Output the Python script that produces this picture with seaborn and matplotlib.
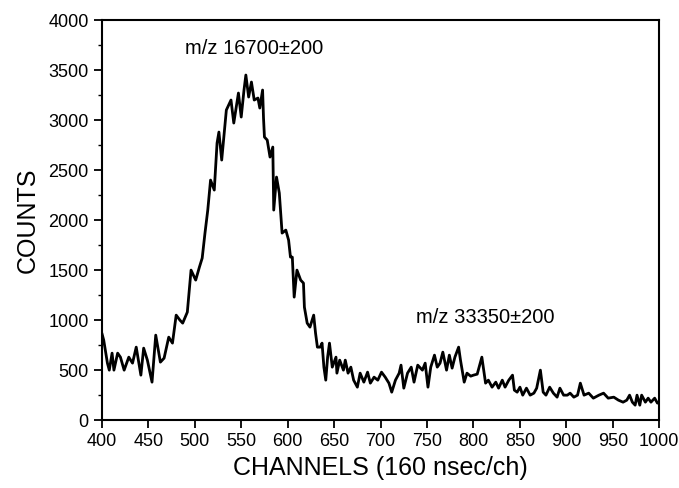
import matplotlib
matplotlib.use("Agg")
import matplotlib.pyplot as plt
import seaborn as sns
import pandas as pd
from matplotlib.ticker import MultipleLocator

channels = [400, 402, 406, 408, 411, 413, 417, 420, 424, 429, 433, 437, 442, 445, 449,
            454, 458, 463, 467, 472, 476, 480, 484, 487, 492, 496, 501, 505, 508, 511,
            514, 517, 521, 524, 526, 529, 531, 534, 539, 542, 547, 550, 553, 555, 558,
            561, 564, 568, 570, 573, 574, 575, 578, 581, 584, 585, 588, 591, 594, 598,
            601, 603, 605, 607, 610, 614, 617, 618, 621, 624, 628, 630, 632, 635, 637,
            639, 641, 643, 645, 648, 652, 653, 656, 660, 662, 665, 668, 671, 675, 678,
            682, 686, 689, 693, 697, 701, 705, 709, 712, 716, 720, 722, 725, 729, 733,
            736, 740, 745, 748, 751, 754, 758, 761, 764, 767, 771, 774, 777, 780, 784,
            786, 790, 793, 797, 800, 804, 809, 813, 816, 820, 824, 827, 831, 834, 838,
            842, 844, 847, 850, 853, 857, 861, 865, 868, 872, 875, 878, 882, 886, 890,
            893, 897, 901, 904, 908, 912, 915, 919, 924, 929, 935, 940, 945, 951, 956,
            961, 965, 968, 971, 974, 976, 979, 981, 985, 988, 991, 995, 998, 1000]
counts = [870, 800, 570, 500, 670, 500, 670, 630, 500, 630, 570, 730, 450, 720, 600,
          380, 850, 580, 620, 830, 770, 1050, 1000, 970, 1080, 1500, 1400, 1530, 1620, 1870,
          2100, 2400, 2300, 2770, 2880, 2600, 2800, 3100, 3200, 2970, 3270, 3030, 3300, 3450, 3230,
          3380, 3200, 3220, 3120, 3300, 3020, 2830, 2800, 2630, 2730, 2100, 2430, 2270, 1870, 1900,
          1800, 1630, 1630, 1230, 1500, 1400, 1370, 1130, 970, 930, 1050, 870, 730, 730, 770,
          530, 400, 630, 770, 530, 630, 470, 600, 500, 600, 470, 530, 400, 330, 470,
          380, 480, 370, 430, 400, 480, 430, 370, 280, 400, 470, 550, 320, 470, 530,
          380, 550, 500, 570, 330, 530, 650, 530, 570, 680, 500, 650, 520, 630, 730,
          600, 380, 470, 440, 450, 460, 630, 370, 400, 330, 380, 320, 400, 330, 400,
          450, 300, 280, 330, 250, 320, 250, 270, 320, 500, 280, 250, 330, 270, 230,
          320, 250, 250, 270, 230, 250, 370, 250, 270, 220, 250, 270, 220, 230, 200,
          180, 200, 250, 180, 150, 250, 150, 250, 180, 220, 180, 220, 170, 180]

x_ticks = [400, 450, 500, 550, 600, 650, 700, 750, 800, 850, 900, 950, 1000]
y_ticks = [0, 500, 1000, 1500, 2000, 2500, 3000, 3500, 4000]
x_label = "CHANNELS (160 nsec/ch)"
y_label = "COUNTS"
peak_labels = ["m/z 16700\u00b1200", "m/z 33350\u00b1200"]
peak_label_pos = [(564, 3720), (813, 1030)]

df = pd.DataFrame({"channel": channels, "counts": counts})

sns.set_style("ticks")
plt.rcParams["font.family"] = ["Liberation Sans", "DejaVu Sans"]
plt.rcParams["text.color"] = "black"
plt.rcParams["axes.labelcolor"] = "black"
plt.rcParams["xtick.color"] = "black"
plt.rcParams["ytick.color"] = "black"

fig = plt.figure(figsize=(6.79, 4.88), dpi=100)
ax = fig.add_axes([0.150, 0.139, 0.821, 0.820])
sns.lineplot(data=df, x="channel", y="counts", ax=ax, color="black", linewidth=2.0)

ax.set_xlim(400, 1000)
ax.set_ylim(0, 4000)
ax.set_xticks(x_ticks)
ax.set_yticks(y_ticks)
ax.yaxis.set_minor_locator(MultipleLocator(250))
ax.tick_params(axis="both", which="major", labelsize=13, width=1.3, length=6,
               color="black", labelcolor="black")
ax.tick_params(axis="y", which="minor", width=1.0, length=3, color="black")
ax.set_xlabel(x_label, fontsize=18, labelpad=4, color="black")
ax.set_ylabel(y_label, fontsize=18, labelpad=6, color="black")
for s in ax.spines.values():
    s.set_visible(True)
    s.set_linewidth(1.5)
    s.set_color("black")

for txt, (px, py) in zip(peak_labels, peak_label_pos):
    ax.text(px, py, txt, ha="center", va="center", fontsize=14.5, color="black")

fig.savefig("out.png", dpi=100)
